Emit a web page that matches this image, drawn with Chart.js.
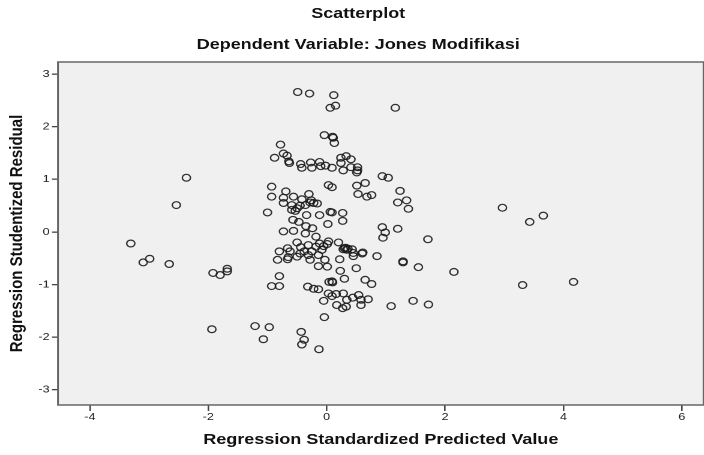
<!DOCTYPE html>
<html>
<head>
<meta charset="utf-8">
<script src="https://cdn.jsdelivr.net/npm/chart.js@4/dist/chart.umd.min.js"></script>
<style>
  html, body { margin: 0; padding: 0; background: #fff; overflow: hidden; width: 704px; height: 455px; }
  /* the original SPSS export is stretched sideways, so the canvas is too */
  #wrap { width: 591px; height: 455px; transform: scaleX(1.2); transform-origin: 0 0; }
</style>
</head>
<body>
<div id="wrap"><canvas id="scatter"></canvas></div>
<script>
// Regression Standardized Predicted Value (x) and Studentized Residual (y)
const predicted = [
  -2.37, -2.54, -3.31, -2.99, -3.10, -2.66, -1.92, -1.80, -1.68, -1.68, -1.94,
  -0.49, -0.29, 0.12, 0.06, 0.15, 1.16,
  -0.04, 0.10, 0.11, 0.13,
  -0.78, -0.73, -0.67, -0.88, -0.64, -0.63, -0.44, -0.42, -0.27, -0.25, -0.12, -0.10, -0.02,
  0.09, 0.24, 0.33, 0.41, 0.24, 0.28, 0.41, 0.52, 0.52, 0.51, 0.94, 1.04,
  -0.93, -0.93, -0.69, -0.56, -0.73, -0.73, -0.42, -0.30, -0.28, -0.16, -0.59, -0.59, -0.53,
  -0.45, -0.36, -1.00, -0.34, -0.12, 0.03, 0.09, 0.06, 0.09, -0.57, -0.47, -0.35, -0.24,
  0.02, -0.73, -0.56, -0.36, -0.18, -0.50, -0.26, -0.22,
  0.51, 0.65, 0.53, 0.68, 0.76, 1.24, 1.20, 1.35, 1.38, 0.27, 0.27, 0.94, 0.99, 0.95, 1.20,
  -0.50, -0.66, -0.80, -0.44, -0.31, -0.18, -0.08, 0.01, -0.12, -0.25, -0.38, -0.65, -0.50,
  -0.62, -0.45, -0.31, -0.28, -0.14, -0.03, -0.14, 0.01, -0.83, -0.66, -0.80,
  0.03, 0.20, 0.30, 0.32, 0.28, 0.34, 0.36, 0.43, 0.45, 0.61, 0.85, -0.05,
  0.60, 0.45, 1.29, 1.29, 1.55, 0.22, 0.23, 0.50, 0.09, 0.10, 0.30, 0.65, 0.76, 0.04,
  1.71, 2.15,
  -0.93, -0.80, -0.32, -0.22, -0.14, -0.05, -0.04, 0.03, -1.21, -0.97, -1.07, -0.43, -0.38,
  -0.42, -0.13,
  0.09, 0.16, 0.28, 0.34, 0.44, 0.54, 0.58, 0.70, 0.58, 0.17, 0.27, 0.33, 1.09, 1.46, 1.72,
  2.97, 3.43, 3.66, 3.31, 4.17
];
const residual = [
  1.03, 0.51, -0.22, -0.51, -0.58, -0.61, -0.78, -0.82, -0.70, -0.75, -1.85,
  2.66, 2.63, 2.60, 2.36, 2.40, 2.36,
  1.84, 1.81, 1.79, 1.69,
  1.66, 1.49, 1.45, 1.41, 1.34, 1.31, 1.29, 1.22, 1.32, 1.22, 1.33, 1.25, 1.26,
  1.22, 1.41, 1.44, 1.38, 1.31, 1.17, 1.23, 1.23, 1.17, 1.13, 1.06, 1.03,
  0.86, 0.67, 0.77, 0.67, 0.65, 0.55, 0.62, 0.72, 0.56, 0.54, 0.51, 0.42, 0.40,
  0.50, 0.51, 0.37, 0.32, 0.32, 0.89, 0.85, 0.38, 0.37, 0.23, 0.19, 0.11, 0.07,
  0.15, 0.01, 0.02, -0.03, -0.09, 0.45, 0.60, 0.55,
  0.88, 0.93, 0.72, 0.67, 0.70, 0.78, 0.56, 0.60, 0.44, 0.36, 0.21, 0.09, -0.01, -0.11, 0.06,
  -0.20, -0.31, -0.37, -0.29, -0.25, -0.28, -0.34, -0.23, -0.22, -0.37, -0.37, -0.48, -0.47,
  -0.37, -0.41, -0.44, -0.53, -0.44, -0.53, -0.65, -0.66, -0.53, -0.52, -0.84,
  -0.18, -0.20, -0.31, -0.30, -0.33, -0.34, -0.32, -0.33, -0.40, -0.39, -0.46, -0.27,
  -0.41, -0.46, -0.56, -0.58, -0.67, -0.52, -0.74, -0.69, -0.94, -0.96, -0.89, -0.91, -0.99, -0.95,
  -0.14, -0.76,
  -1.03, -1.03, -1.04, -1.08, -1.09, -1.31, -1.62, -1.17, -1.79, -1.81, -2.04, -1.90, -2.05,
  -2.14, -2.23,
  -1.22, -1.18, -1.17, -1.29, -1.25, -1.20, -1.29, -1.28, -1.39, -1.39, -1.45, -1.42, -1.41, -1.31, -1.38,
  0.46, 0.19, 0.31, -1.01, -0.95
];

const xTicks = [-4, -2, 0, 2, 4, 6];
const yTicks = [-3, -2, -1, 0, 1, 2, 3];

const points = predicted.map((x, i) => ({ x: x, y: residual[i] }));

const font = "'Liberation Sans', Arial, sans-serif";

// grey plot background and frame
const frame = {
  id: "frame",
  beforeDatasetsDraw(chart) {
    const { ctx, chartArea: a } = chart;
    ctx.save();
    ctx.fillStyle = "#f0f0f0";
    ctx.fillRect(a.left, a.top, a.right - a.left, a.bottom - a.top);
    ctx.restore();
  },
  afterDatasetsDraw(chart) {
    const { ctx, chartArea: a } = chart;
    ctx.save();
    ctx.strokeStyle = "#666";
    ctx.lineWidth = 1.5;
    ctx.strokeRect(a.left, a.top, a.right - a.left, a.bottom - a.top);
    ctx.restore();
  }
};

new Chart(document.getElementById("scatter"), {
  type: "scatter",
  data: {
    datasets: [{
      data: points,
      pointStyle: "circle",
      pointRadius: 3.4,
      pointHoverRadius: 3.4,
      borderWidth: 1.2,
      borderColor: "rgba(25,25,25,0.9)",
      backgroundColor: "rgba(0,0,0,0)"
    }]
  },
  options: {
    responsive: true,
    maintainAspectRatio: false,
    animation: false,
    devicePixelRatio: 2,
    layout: { padding: { left: 6, right: 0, top: 0, bottom: 0 } },
    plugins: {
      legend: { display: false },
      tooltip: { enabled: false },
      title: {
        display: true,
        text: "Scatterplot",
        color: "#111",
        font: { family: font, size: 15, weight: "bold" },
        padding: { top: 5, bottom: 13 }
      },
      subtitle: {
        display: true,
        text: "Dependent Variable: Jones Modifikasi",
        color: "#111",
        font: { family: font, size: 15, weight: "bold" },
        padding: { top: 0, bottom: 8 }
      }
    },
    scales: {
      x: {
        type: "linear",
        position: "bottom",
        min: -4.54,
        max: 6.37,
        afterBuildTicks: s => { s.ticks = xTicks.map(v => ({ value: v })); },
        afterFit: s => { s.height = 50; },
        grid: { drawOnChartArea: false, drawTicks: true, tickLength: 6, color: "#444", lineWidth: 1.3 },
        border: { display: false },
        ticks: { color: "#222", font: { family: font, size: 10.5 }, padding: 0, maxRotation: 0 },
        title: {
          display: true,
          text: "Regression Standardized Predicted Value",
          color: "#111",
          font: { family: font, size: 15, weight: "bold" },
          padding: { top: 0, bottom: 6 }
        }
      },
      y: {
        type: "linear",
        min: -3.29,
        max: 3.23,
        afterBuildTicks: s => { s.ticks = yTicks.map(v => ({ value: v })); },
        afterFit: s => { s.width = 42.3; },
        grid: { drawOnChartArea: false, drawTicks: true, tickLength: 5, color: "#444", lineWidth: 1.3 },
        border: { display: false },
        ticks: { color: "#222", font: { family: font, size: 10.5 }, padding: 2 },
        title: {
          display: true,
          text: "Regression Studentized Residual",
          color: "#111",
          font: { family: font, size: 15, weight: "bold", lineHeight: 1 },
          padding: { top: 1, bottom: 0 }
        }
      }
    }
  },
  plugins: [frame]
});
</script>
</body>
</html>
